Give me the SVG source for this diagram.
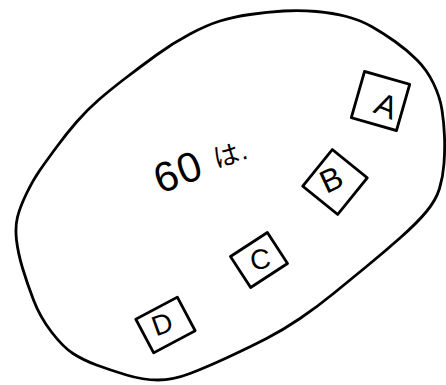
<svg xmlns="http://www.w3.org/2000/svg" width="446" height="385" viewBox="0 0 446 385">
<style>
.ln{fill:none;stroke:#000;stroke-width:2.8;stroke-linejoin:round;stroke-linecap:round}
.lbl{font-family:"Liberation Sans","DejaVu Sans",sans-serif;fill:#000;text-anchor:middle;dominant-baseline:central}
.note{font-family:"Liberation Sans","Noto Sans CJK JP",sans-serif;fill:#000}
</style>
<rect width="446" height="385" fill="#fff"/>
<g id="region">
<path class="ln" d="M16.5,240 Q15,227 17.5,217 Q20,207 26.5,193.5 Q33,180 40,170 Q47,160 57,146.5 Q67,133 77,121.5 Q87,110 98.5,100 Q110,90 125,78.5 Q140,67 156.5,55 Q173,43 190,34 Q207,25 220,21 Q233,17 250,14.5 Q267,12 283.5,11 Q300,10 316.5,11.5 Q333,13 346.5,16.5 Q360,20 371.5,26.5 Q383,33 395,41.5 Q407,50 417,60 Q427,70 433.5,83.5 Q440,97 442,110 Q444,123 444.5,136.5 Q445,150 444,163.5 Q443,177 439.5,188.5 Q436,200 426.5,211.5 Q417,223 400,238 Q383,253 366.5,266.5 Q350,280 333.5,293.5 Q317,307 300,318.5 Q283,330 266.5,338.5 Q250,347 228.5,357 Q207,367 190,373.5 Q173,380 158,380 Q143,380 126.5,375 Q110,370 96.5,365 Q83,360 73,353.5 Q63,347 51.5,332 Q40,317 33.5,300 Q27,283 22.5,268 Q18,253 16.5,240 Z"/>
<text class="note"><tspan font-size="42" x="160 183" y="194 185" rotate="-20">60</tspan><tspan font-size="26" x="216 242" y="168 160" rotate="-15">は.</tspan></text>
</g>
<g id="node-A">
<rect class="ln" x="-23.5" y="-24" width="47" height="48" transform="translate(380.5,101) rotate(16)"/>
<text class="lbl" font-size="32" x="383" y="101" rotate="22">A</text>
</g>
<g id="node-B">
<rect class="ln" x="-22.5" y="-23.5" width="45" height="47" transform="translate(335,182) rotate(39)"/>
<text class="lbl" font-size="32" x="337" y="183" rotate="-25">B</text>
</g>
<g id="node-C">
<rect class="ln" x="-22" y="-18.5" width="44" height="37" transform="translate(259,260) rotate(-33)"/>
<text class="lbl" font-size="28" x="262" y="261" rotate="-10">C</text>
</g>
<g id="node-D">
<rect class="ln" x="-23.5" y="-19" width="47" height="38" transform="translate(165.5,325) rotate(-28)"/>
<text class="lbl" font-size="28" x="166" y="327" rotate="-20">D</text>
</g>
<g id="connectors"></g>
</svg>
